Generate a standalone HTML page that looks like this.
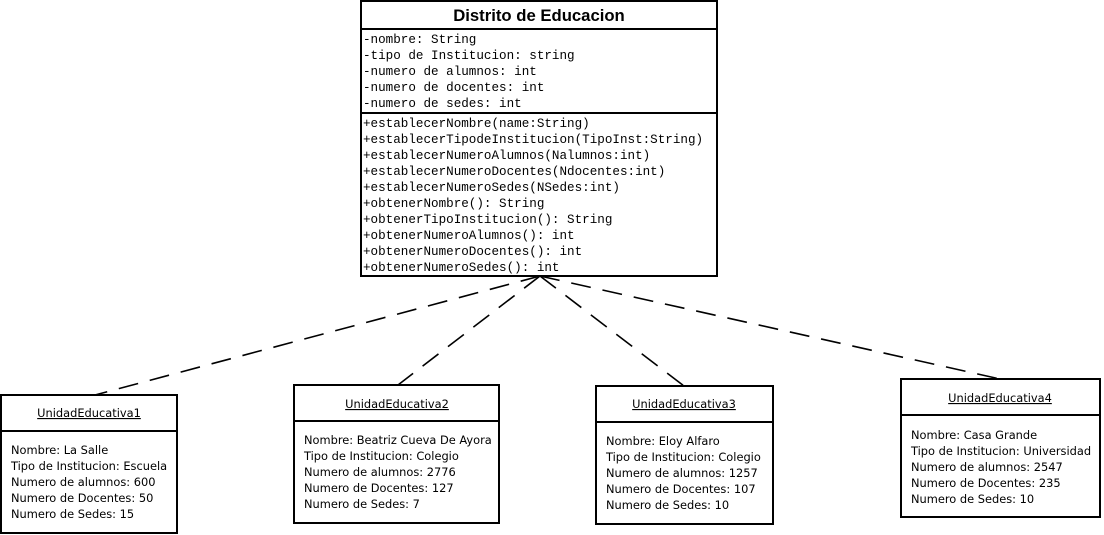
<!DOCTYPE html>
<html><head><meta charset="utf-8"><style>
html,body{margin:0;padding:0;background:#fff;}
svg{display:block;}
.m{font-family:"Liberation Mono",monospace;font-size:12.6px;fill:#000;}
.s{font-family:"DejaVu Sans","Liberation Sans",sans-serif;font-size:11.4px;fill:#000;}
</style></head><body>
<svg width="1104" height="535" viewBox="0 0 1104 535" xmlns="http://www.w3.org/2000/svg">
<g stroke="#000" stroke-width="1.6" fill="none" stroke-dasharray="20,12">
<line x1="540" y1="276" x2="95" y2="395"/>
<line x1="540" y1="276" x2="398" y2="385"/>
<line x1="540" y1="276" x2="684" y2="386"/>
<line x1="540" y1="276" x2="1000" y2="379"/>
</g>
<g stroke="#000" stroke-width="2" fill="#fff">
<rect x="361" y="1" width="356" height="275"/>
<line x1="361" y1="29" x2="717" y2="29"/>
<line x1="361" y1="113" x2="717" y2="113"/>
<rect x="1" y="395" width="176" height="138"/>
<line x1="1" y1="431" x2="177" y2="431"/>
<rect x="294" y="385" width="205" height="138"/>
<line x1="294" y1="421" x2="499" y2="421"/>
<rect x="596" y="386" width="177" height="138"/>
<line x1="596" y1="422" x2="773" y2="422"/>
<rect x="901" y="379" width="199" height="138"/>
<line x1="901" y1="415" x2="1100" y2="415"/>
</g>
<text x="539" y="21" text-anchor="middle" font-family="'Liberation Sans',sans-serif" font-weight="bold" font-size="16.7px">Distrito de Educacion</text>
<g class="m">
<text x="363" y="43">-nombre: String</text>
<text x="363" y="59">-tipo de Institucion: string</text>
<text x="363" y="75">-numero de alumnos: int</text>
<text x="363" y="91">-numero de docentes: int</text>
<text x="363" y="107">-numero de sedes: int</text>
<text x="363" y="127">+establecerNombre(name:String)</text>
<text x="363" y="143">+establecerTipodeInstitucion(TipoInst:String)</text>
<text x="363" y="159">+establecerNumeroAlumnos(Nalumnos:int)</text>
<text x="363" y="175">+establecerNumeroDocentes(Ndocentes:int)</text>
<text x="363" y="191">+establecerNumeroSedes(NSedes:int)</text>
<text x="363" y="207">+obtenerNombre(): String</text>
<text x="363" y="223">+obtenerTipoInstitucion(): String</text>
<text x="363" y="239">+obtenerNumeroAlumnos(): int</text>
<text x="363" y="255">+obtenerNumeroDocentes(): int</text>
<text x="363" y="271">+obtenerNumeroSedes(): int</text>
</g>
<g class="s">
<text x="89" y="417" text-anchor="middle" text-decoration="underline">UnidadEducativa1</text>
<text x="11" y="454">Nombre: La Salle</text>
<text x="11" y="470">Tipo de Institucion: Escuela</text>
<text x="11" y="486">Numero de alumnos: 600</text>
<text x="11" y="502">Numero de Docentes: 50</text>
<text x="11" y="518">Numero de Sedes: 15</text>

<text x="397" y="408" text-anchor="middle" text-decoration="underline">UnidadEducativa2</text>
<text x="304" y="444">Nombre: Beatriz Cueva De Ayora</text>
<text x="304" y="460">Tipo de Institucion: Colegio</text>
<text x="304" y="476">Numero de alumnos: 2776</text>
<text x="304" y="492">Numero de Docentes: 127</text>
<text x="304" y="508">Numero de Sedes: 7</text>

<text x="684" y="408" text-anchor="middle" text-decoration="underline">UnidadEducativa3</text>
<text x="606" y="445">Nombre: Eloy Alfaro</text>
<text x="606" y="461">Tipo de Institucion: Colegio</text>
<text x="606" y="477">Numero de alumnos: 1257</text>
<text x="606" y="493">Numero de Docentes: 107</text>
<text x="606" y="509">Numero de Sedes: 10</text>

<text x="1000" y="402" text-anchor="middle" text-decoration="underline">UnidadEducativa4</text>
<text x="911" y="439">Nombre: Casa Grande</text>
<text x="911" y="455">Tipo de Institucion: Universidad</text>
<text x="911" y="471">Numero de alumnos: 2547</text>
<text x="911" y="487">Numero de Docentes: 235</text>
<text x="911" y="503">Numero de Sedes: 10</text>
</g>
</svg>
</body></html>
